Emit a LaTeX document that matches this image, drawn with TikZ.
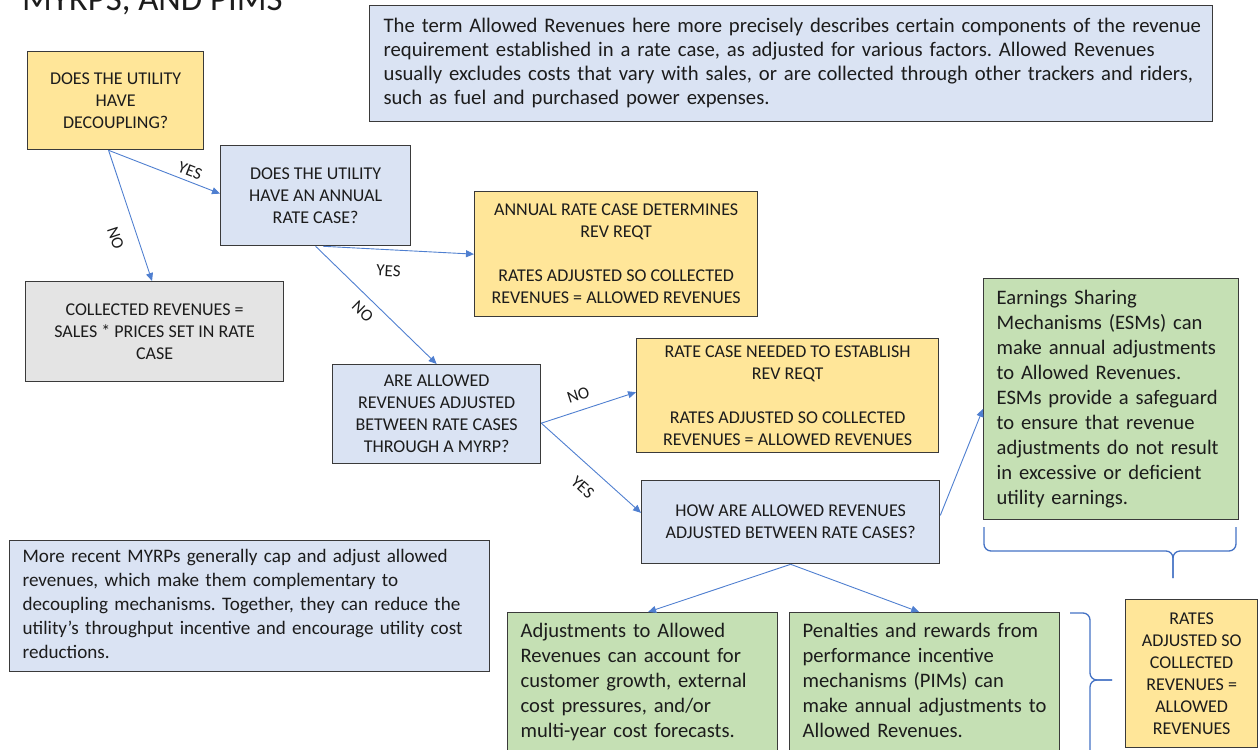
\documentclass[tikz,border=0pt]{standalone}
\usepackage{fontspec}
\setmainfont{Carlito}
\usetikzlibrary{arrows.meta,calc}
\frenchspacing

\definecolor{fillYel}{HTML}{FFE699}
\definecolor{fillBlu}{HTML}{DAE3F3}
\definecolor{fillGrn}{HTML}{C5E0B4}
\definecolor{fillGry}{HTML}{E4E4E4}
\definecolor{edgeGray}{HTML}{3A3A3A}
\definecolor{inkBlack}{HTML}{1C1C1C}
\definecolor{flowBlue}{HTML}{4F7FD0}
\definecolor{braceBlue}{HTML}{4472C4}

% left-aligned block of lines that never re-wraps
\newcommand{\boxlines}[1]{\begin{tabular}{@{}l@{}}#1\end{tabular}}

\begin{document}
\begin{tikzpicture}[x=1pt,y=-1pt,
  box/.style={draw=edgeGray, line width=1.3pt, inner sep=0pt, anchor=north west, text=inkBlack},
  caps/.style={box, align=center, font=\fontsize{18}{22}\selectfont},
  prose/.style={box, align=left, inner xsep=13pt, font=\fontsize{20.6}{25}\selectfont},
  sz/.style 2 args={minimum width=#1, minimum height=#2},
  arr/.style={draw=flowBlue, line width=0.9pt, -{Triangle[length=8pt,width=7pt]}},
  lab/.style={font=\fontsize{17}{20}\selectfont, sloped, inner sep=1pt, text=inkBlack},
  brace/.style={draw=braceBlue, line width=1.3pt, rounded corners=7pt}]

\useasboundingbox (0,0) rectangle (1259,750);

% heading, partly above the page edge
\node[anchor=base west, font=\fontsize{34.8}{40}\selectfont, inner sep=0pt, text=inkBlack] (title) at (22,10) {MYRPS, AND PIMS};

% decision and outcome boxes
\node[caps, fill=fillYel, sz={176}{98}] (dec) at (27,51) {DOES THE UTILITY\\HAVE\\DECOUPLING?};
\node[caps, fill=fillBlu, sz={190}{100}] (annual) at (220,145) {DOES THE UTILITY\\HAVE AN ANNUAL\\RATE CASE?};
\node[prose, fill=fillBlu, sz={843}{116}, inner xsep=14pt, text width=815pt, font=\fontsize{20.7}{24}\selectfont] (note) at (369,5)
  {\boxlines{The term Allowed Revenues here more precisely describes certain components of the revenue\\
   requirement established in a rate case, as adjusted for various factors. Allowed Revenues\\
   usually excludes costs that vary with sales, or are collected through other trackers and riders,\\
   such as fuel and purchased power expenses.}};
\node[caps, fill=fillGry, sz={258}{100}] (collected) at (25,281) {COLLECTED REVENUES =\\SALES * PRICES SET IN RATE\\CASE};
\node[caps, fill=fillYel, sz={283}{125}] (arc) at (474,191)
  {ANNUAL RATE CASE DETERMINES\\REV REQT\\[22pt]RATES ADJUSTED SO COLLECTED\\REVENUES = ALLOWED REVENUES};
\node[caps, fill=fillBlu, sz={208}{99}] (myrp) at (332,364) {ARE ALLOWED\\REVENUES ADJUSTED\\BETWEEN RATE CASES\\THROUGH A MYRP?};
\node[caps, fill=fillYel, sz={302}{114}] (needed) at (636,338)
  {RATE CASE NEEDED TO ESTABLISH\\REV REQT\\[22pt]RATES ADJUSTED SO COLLECTED\\REVENUES = ALLOWED REVENUES};
\node[prose, fill=fillGrn, sz={255}{241}, text width=229pt] (esm) at (983,278)
  {\boxlines{Earnings Sharing\\ Mechanisms (ESMs) can\\ make annual adjustments\\ to Allowed Revenues.\\ ESMs provide a safeguard\\ to ensure that revenue\\ adjustments do not result\\ in excessive or deficient\\ utility earnings.}};
\node[caps, fill=fillBlu, sz={298}{83}] (how) at (641,480) {HOW ARE ALLOWED REVENUES\\ADJUSTED BETWEEN RATE CASES?};
\node[prose, fill=fillBlu, sz={480}{131}, text width=454pt, font=\fontsize{19.1}{24}\selectfont] (recent) at (9,540)
  {\boxlines{More recent MYRPs generally cap and adjust allowed\\ revenues, which make them complementary to\\ decoupling mechanisms. Together, they can reduce the\\ utility’s throughput incentive and encourage utility cost\\ reductions.}};
\node[prose, fill=fillGrn, sz={270}{140}, text width=244pt] (adj) at (507,612)
  {\boxlines{Adjustments to Allowed\\ Revenues can account for\\ customer growth, external\\ cost pressures, and/or\\ multi-year cost forecasts.}};
\node[prose, fill=fillGrn, sz={270}{140}, text width=244pt] (pen) at (789,612)
  {\boxlines{Penalties and rewards from\\ performance incentive\\ mechanisms (PIMs) can\\ make annual adjustments to\\ Allowed Revenues.}};
\node[caps, fill=fillYel, sz={132}{148}] (rates) at (1125,599) {RATES\\ADJUSTED SO\\COLLECTED\\REVENUES =\\ALLOWED\\REVENUES};

% connectors
\coordinate (decfoot) at ($(dec.south west)!0.46!(dec.south east)$);
\draw[arr] (decfoot) -- node[lab, pos=.7, above=3pt] {YES} ($(annual.north west)!0.48!(annual.south west)$);
\draw[arr] (decfoot) -- node[lab, pos=.62, below=14pt] {NO} ($(collected.north west)!0.49!(collected.north east)$);
\draw[arr] ($(annual.south west)!0.54!(annual.south east)$) -- node[lab, pos=.44, below=14pt] {YES} (arc.west);
\draw[arr] (annual.south) -- node[lab, pos=.47, below=7pt] {NO} (myrp.north);
\coordinate (myrpside) at ($(myrp.north east)!0.59!(myrp.south east)$);
\draw[arr] (myrpside) -- node[lab, pos=.44, above=8pt] {NO} ($(needed.north west)!0.47!(needed.south west)$);
\draw[arr] (myrpside) -- node[lab, pos=.55, below=13pt] {YES} ($(how.north west)!0.39!(how.south west)$);
\draw[arr] ($(how.north east)!0.42!(how.south east)$) -- ($(esm.north west)!0.54!(esm.south west)$);
\draw[arr] (how.south) -- ($(adj.north west)!0.52!(adj.north east)$);
\draw[arr] (how.south) -- ($(pen.north west)!0.48!(pen.north east)$);

% braces grouping the adjustment mechanisms
\draw[brace] (984,527) -- (984,551) -- (1173,551) -- (1173,578);
\draw[brace] (1236,527) -- (1236,551) -- (1173,551) -- (1173,578);
\draw[brace] (1070,613) -- (1090,613) -- (1090,680) -- (1112,680);
\draw[brace] (1070,760) -- (1090,760) -- (1090,680) -- (1112,680);
\end{tikzpicture}
\end{document}
